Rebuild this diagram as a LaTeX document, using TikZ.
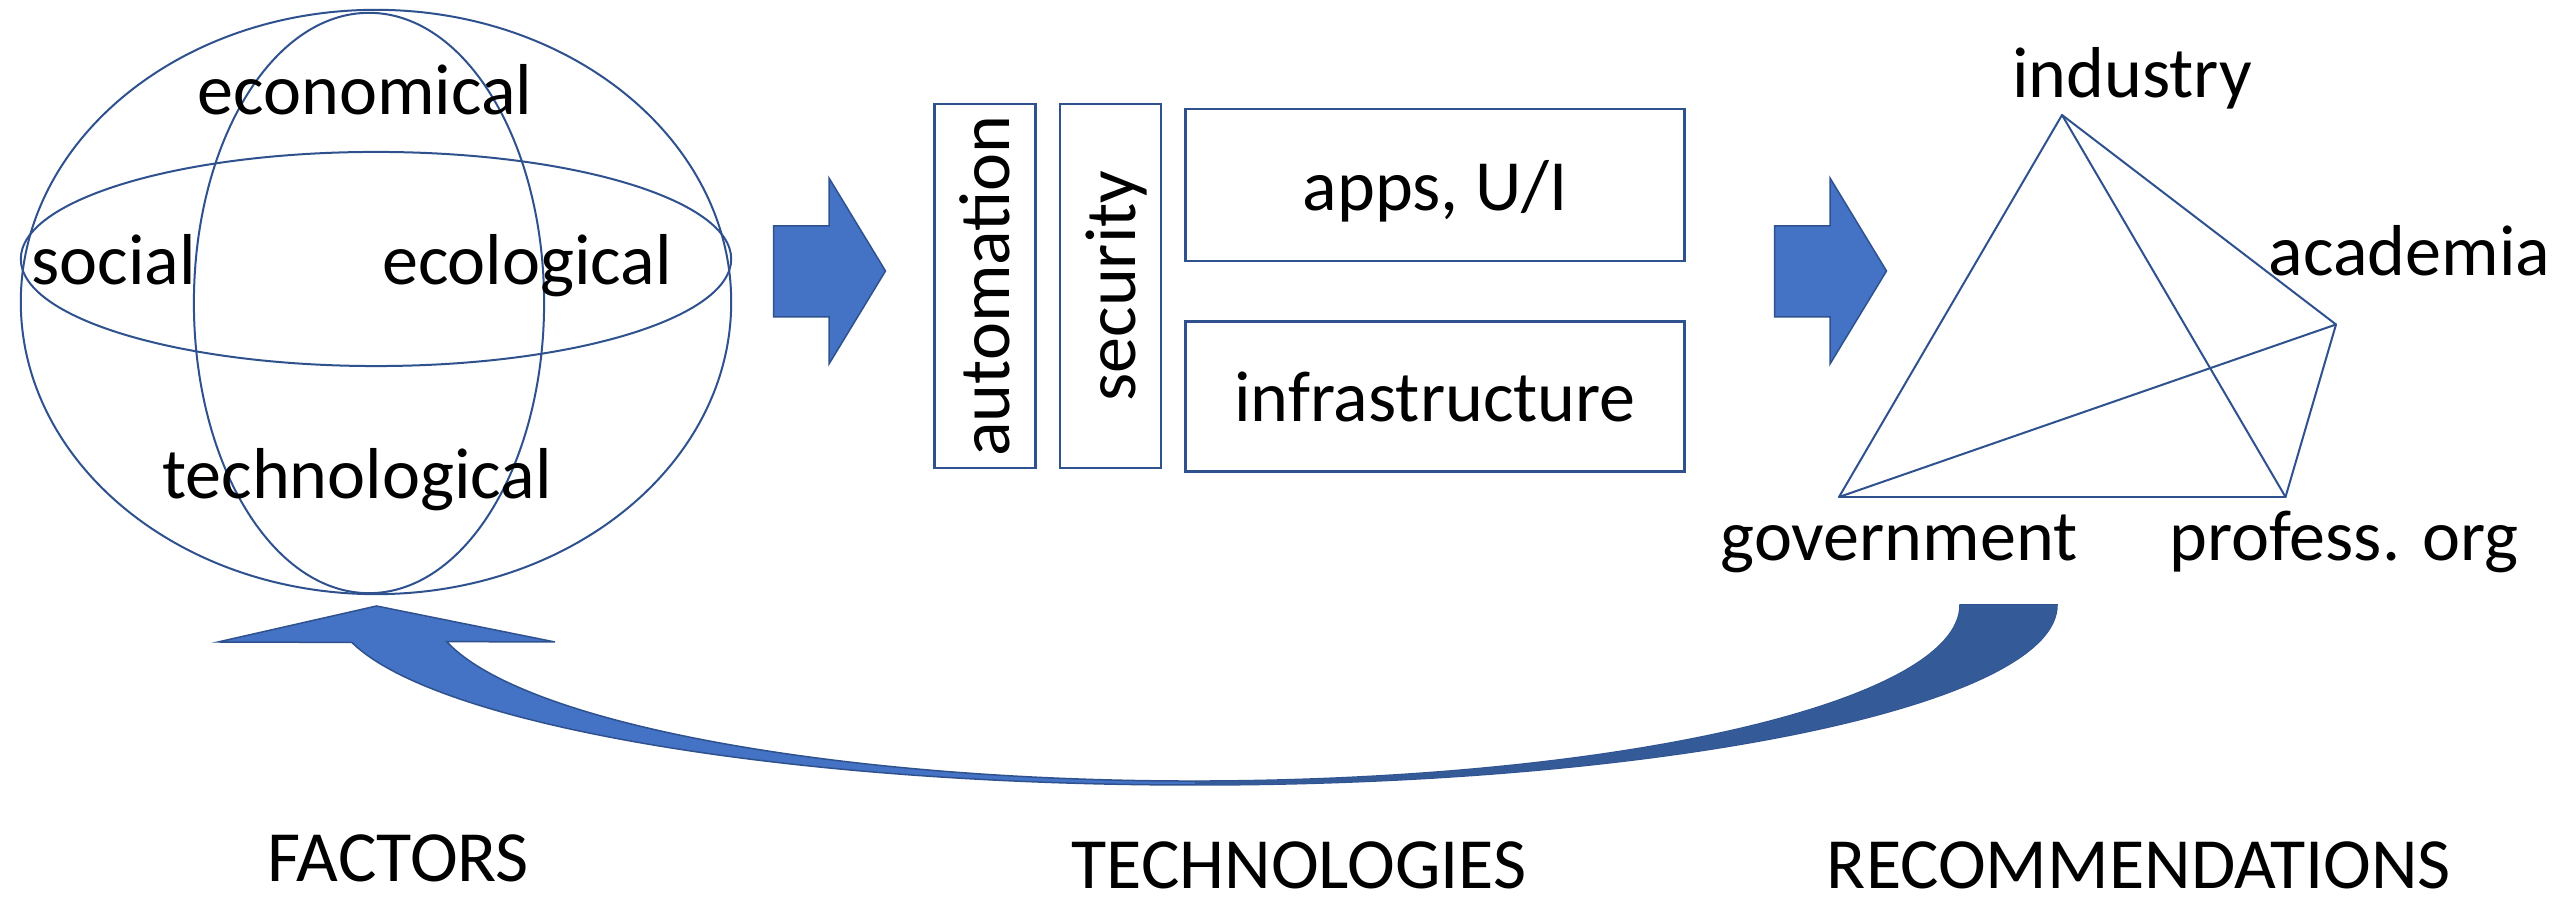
\documentclass[tikz,border=0pt]{standalone}
\usepackage{fontspec}
\setmainfont{Carlito}
\usetikzlibrary{positioning,shapes.geometric}
\definecolor{ppblue}{HTML}{2F528F}
\definecolor{ppfill}{HTML}{4472C4}
\definecolor{ppdark}{HTML}{345A98}
\tikzset{
  lbl/.style={anchor=base,inner sep=0pt,font=\fontsize{20.5}{24}\selectfont},
  ring/.style={ellipse,draw=ppblue,line width=0.02cm,inner sep=0pt},
  techbox/.style={rectangle,draw=ppblue,line width=0.025cm,inner sep=0pt,text depth=0pt,font=\fontsize{20.5}{24}\selectfont},
  edge/.style={draw=ppblue,line width=0.02cm,line cap=round},
  bigarrow/.style={fill=ppfill,draw=ppblue,line width=0.015cm}
}

\begin{document}
\begin{tikzpicture}[x=0.01cm,y=-0.01cm]
\path[fill=white,use as bounding box] (0,0) rectangle (2554,898);
% factors: the globe
\node[ring,minimum width=7.1cm,minimum height=5.84cm] (sphere) at (376,302) {};
\node[ring,minimum width=7.1cm,minimum height=2.14cm] (equator) at (376,259) {};
\node[ring,minimum width=3.5cm,minimum height=5.8cm] (meridian) at (369,303) {};
\node[lbl] (econ) at (365,115) {economical};
\node[lbl] (social) at (113.5,285) {social};
\node[lbl] (ecol) at (527,285) {ecological};
\node[lbl] (techno) at (357,499) {technological};

% block arrows
\foreach \sx in {0,1001}
  \filldraw[bigarrow] (\sx+773.5,226) -- (\sx+829,226) -- (\sx+829,178) -- (\sx+885.5,271)
    -- (\sx+829,364) -- (\sx+829,317) -- (\sx+773.5,317) -- cycle;

% technologies
\node[techbox,rotate=90,minimum width=3.64cm,minimum height=1.01cm] (auto) at (985,286) {automation};
\node[techbox,rotate=90,minimum width=3.64cm,minimum height=1.01cm] (secu) at (1110.5,286) {security};
\node[techbox,minimum width=4.99cm,minimum height=1.52cm] (apps) at (1435,185) {apps, U/I};
\node[techbox,minimum width=4.99cm,minimum height=1.50cm,below=0.58cm of apps] (infra) {infrastructure};

% recommendations
\coordinate (ind) at (2062,115);
\coordinate (aca) at (2336,324.5);
\coordinate (gov) at (1839,497);
\coordinate (prof) at (2285.5,497);
\foreach \a/\b in {ind/gov,ind/prof,ind/aca,aca/gov,aca/prof,gov/prof}
  \draw[edge] (\a) -- (\b);
\node[lbl] (industry) at (2132,97.6) {industry};
\node[lbl] (academia) at (2409.5,275.5) {academia};
\node[lbl] (government) at (1899,560.6) {government};
\node[lbl] (profess) at (2344,560.6) {profess. org};

% feedback arrow
\filldraw[bigarrow] (2057,605) arc[start angle=0,end angle=168,x radius=862,y radius=180]
  -- (218,642) -- (376.5,606) -- (555,642) -- (446.7,641.6)
  arc[start angle=168,end angle=0,x radius=765,y radius=176] -- cycle;
\fill[ppdark] (1195,785) arc[start angle=90,end angle=0,x radius=862,y radius=180]
  -- (1960,605) arc[start angle=0,end angle=90,x radius=765,y radius=176] -- cycle;

\node[lbl] (factors) at (398.5,882) {FACTORS};
\node[lbl] (technologies) at (1299,889) {TECHNOLOGIES};
\node[lbl] (recomm) at (2139,889) {RECOMMENDATIONS};
\end{tikzpicture}
\end{document}
